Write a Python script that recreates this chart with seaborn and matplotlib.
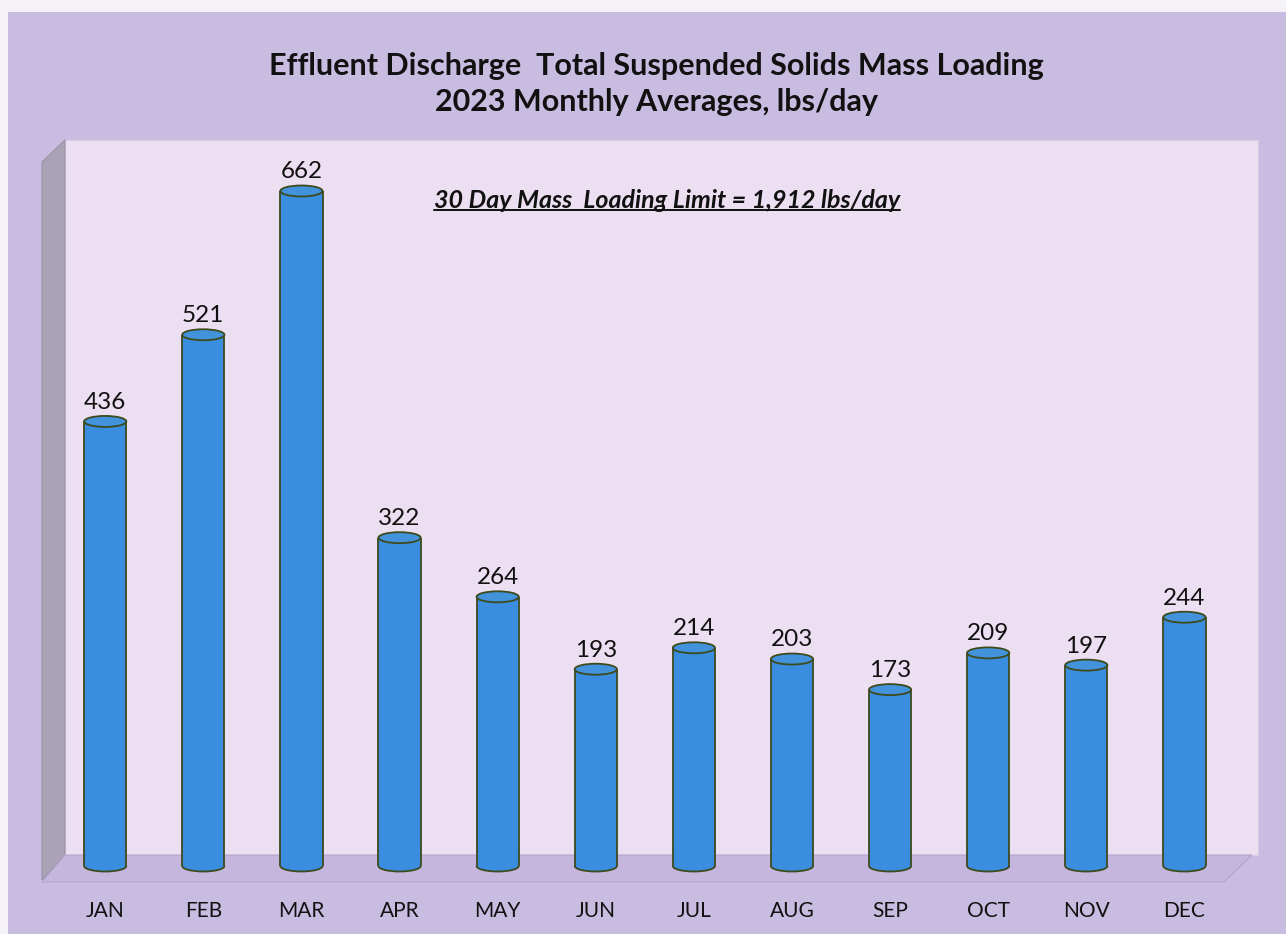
import matplotlib
matplotlib.use("Agg")
import matplotlib.pyplot as plt
import seaborn as sns
import numpy as np
from matplotlib.patches import Ellipse, Arc, Polygon, Rectangle
from matplotlib.lines import Line2D

# data
months = ["JAN", "FEB", "MAR", "APR", "MAY", "JUN", "JUL", "AUG", "SEP", "OCT", "NOV", "DEC"]
tss_lbs = [436, 521, 662, 322, 264, 193, 214, 203, 173, 209, 197, 244]
title_lines = ["Effluent Discharge  Total Suspended Solids Mass Loading",
               "2023 Monthly Averages, lbs/day"]
limit_note = "30 Day Mass  Loading Limit = 1,912 lbs/day"

sns.set_theme(style="white")
plt.rcParams["font.family"] = ["Lato", "DejaVu Sans"]

W, H = 1286, 934
fig = plt.figure(figsize=(W / 100, H / 100), dpi=100)
fig.patch.set_facecolor("#f4f2f6")


def px(x, y):
    # pixel (top-left origin) -> figure fraction
    return (x / W, 1 - y / H)


# outer lavender panel
fig.patches.append(Rectangle(px(8, H), (W - 8) / W, (H - 12) / H, transform=fig.transFigure,
                             facecolor="#c8bce0", edgecolor="none", zorder=-3))
# back wall, left wall and floor of the 3D box
back = [px(65, 140), px(1258, 140), px(1258, 855), px(65, 855)]
left = [px(42, 162), px(65, 140), px(65, 855), px(42, 880)]
floor = [px(65, 855), px(1252, 855), px(1224, 882), px(42, 882)]
fig.patches.append(Polygon(back, closed=True, transform=fig.transFigure,
                           facecolor="#ecdff2", edgecolor="#d8cce6", lw=0.8, zorder=-2))
fig.patches.append(Polygon(left, closed=True, transform=fig.transFigure,
                           facecolor="#aaa3b8", edgecolor="#9a93a8", lw=0.8, zorder=-2))
fig.patches.append(Polygon(floor, closed=True, transform=fig.transFigure,
                           facecolor="#c4b6dc", edgecolor="#b3a6cc", lw=0.8, zorder=-2))

# axes mapped onto the back wall, baseline at the bar bottoms
ax_left, ax_right, ax_top, ax_bottom = 65, 1258, 140, 866
ax = fig.add_axes([ax_left / W, 1 - ax_bottom / H, (ax_right - ax_left) / W, (ax_bottom - ax_top) / H])
ax.set_zorder(2)
ax.set_facecolor("none")
ax.patch.set_alpha(0)

bar_w = 0.43
body = "#3b8de0"
edge = "#3d4a1c"
sns.barplot(x=months, y=tss_lbs, color=body, width=bar_w, linewidth=0, saturation=1, ax=ax, zorder=3)

ax.set_xlim(-0.41, 11.75)
ax.set_ylim(0, 712)
ax.set_yticks([])
ax.set_xlabel("")
ax.set_ylabel("")
for s in ax.spines.values():
    s.set_visible(False)
ax.tick_params(axis="x", length=0, pad=25, labelsize=15, labelcolor="#111111")

# pixels per data unit -> ellipse height in data units
ppu = (ax_bottom - ax_top) / 712
ell_h = 11 / ppu

for bar, v in zip(list(ax.patches), tss_lbs):
    cx = bar.get_x() + bar.get_width() / 2
    w = bar.get_width()
    # bottom rounded end
    ax.add_patch(Ellipse((cx, 0), w, ell_h, facecolor=body, edgecolor="none", zorder=2.9, clip_on=False))
    ax.add_patch(Arc((cx, 0), w, ell_h, theta1=180, theta2=360, color=edge, lw=1.3, zorder=4, clip_on=False))
    # sides
    ax.vlines([cx - w / 2, cx + w / 2], 0, v, colors=edge, lw=1.3, zorder=4)
    # top cap
    ax.add_patch(Ellipse((cx, v), w, ell_h, facecolor="#4292dc", edgecolor=edge, lw=1.3, zorder=5, clip_on=False))
    ax.text(cx, v + ell_h / 2 + 3, f"{v}", ha="center", va="bottom", fontsize=17.5, color="#111111", zorder=6)

# titles
for i, line in enumerate(title_lines):
    fig.text(656 / W, 1 - (66 + i * 36) / H, line, ha="center", va="center",
             fontsize=22, fontweight="bold", color="#111111")

note = fig.text(667 / W, 1 - 200 / H, limit_note, ha="center", va="center",
                fontsize=18, fontweight="bold", fontstyle="italic", color="#111111")

# underline under the note
fig.canvas.draw()
bb = note.get_window_extent(renderer=fig.canvas.get_renderer())
fig.lines.append(Line2D([bb.x0 / W, bb.x1 / W], [(bb.y0 + 2) / H, (bb.y0 + 2) / H],
                        transform=fig.transFigure, color="#111111", lw=1.4))

fig.savefig("out.png", dpi=100, facecolor=fig.get_facecolor())
